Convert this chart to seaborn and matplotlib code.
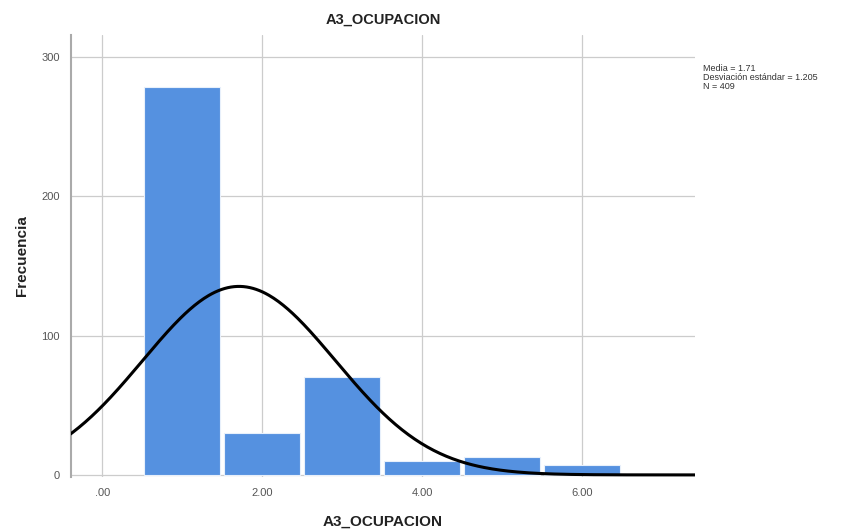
import numpy as np
import pandas as pd
import matplotlib
matplotlib.use("Agg")
import matplotlib.pyplot as plt
import seaborn as sns

# Frequency table for A3_OCUPACION
categories = [1, 2, 3, 4, 5, 6]
counts = [279, 30, 70, 10, 13, 7]
x_ticks = [0, 2, 4, 6]
x_tick_labels = [".00", "2.00", "4.00", "6.00"]
y_ticks = [0, 100, 200, 300]

mean_val = 1.71
sd_val = 1.205
n_val = 409

sns.set_theme(style="white")
plt.rcParams["font.family"] = ["Liberation Sans", "DejaVu Sans"]

fig = plt.figure(figsize=(8.56, 5.31), dpi=100)
ax = fig.add_axes([71 / 856, 1 - 477 / 531, (695 - 71) / 856, (477 - 35) / 531])

df = pd.DataFrame({"valor": categories, "frecuencia": counts})
sns.histplot(data=df, x="valor", weights="frecuencia", discrete=True, shrink=0.95,
             color="#5591e0", alpha=1.0, edgecolor="#e8f0fb", linewidth=0.8,
             ax=ax, zorder=2)

# Normal curve scaled to counts (bin width 1)
xs = np.linspace(-0.45, 7.45, 400)
ys = n_val * 1.0 / (sd_val * np.sqrt(2 * np.pi)) * np.exp(-0.5 * ((xs - mean_val) / sd_val) ** 2)
sns.lineplot(x=xs, y=ys, color="black", linewidth=2.2, ax=ax, zorder=3)

ax.set_xlim(-0.39, 7.41)
ax.set_ylim(-1.5, 316)
ax.set_xticks(x_ticks)
ax.set_xticklabels(x_tick_labels, fontsize=8, color="#555555")
ax.set_yticks(y_ticks)
ax.set_yticklabels([str(v) for v in y_ticks], fontsize=8, color="#555555")
ax.grid(True, color="#cccccc", linewidth=0.9, zorder=0)
ax.set_axisbelow(True)
for s in ["top", "right", "bottom"]:
    ax.spines[s].set_visible(False)
ax.spines["left"].set_color("#aaaaaa")
ax.spines["left"].set_linewidth(1.5)
ax.tick_params(axis="both", length=0, pad=8)

ax.set_xlabel("A3_OCUPACION", fontsize=11, fontweight="bold", color="#222222", labelpad=12)
ax.set_ylabel("Frecuencia", fontsize=11, fontweight="bold", color="#222222", labelpad=9)
ax.set_title("A3_OCUPACION", fontsize=10.5, fontweight="bold", color="#222222", pad=8)

fig.text(703 / 856, 1 - 64 / 531,
         f"Media = {mean_val}\nDesviación estándar = {sd_val}\nN = {n_val}",
         fontsize=6.5, color="#333333", va="top", ha="left", linespacing=1.0)

fig.savefig("out.png", dpi=100)
